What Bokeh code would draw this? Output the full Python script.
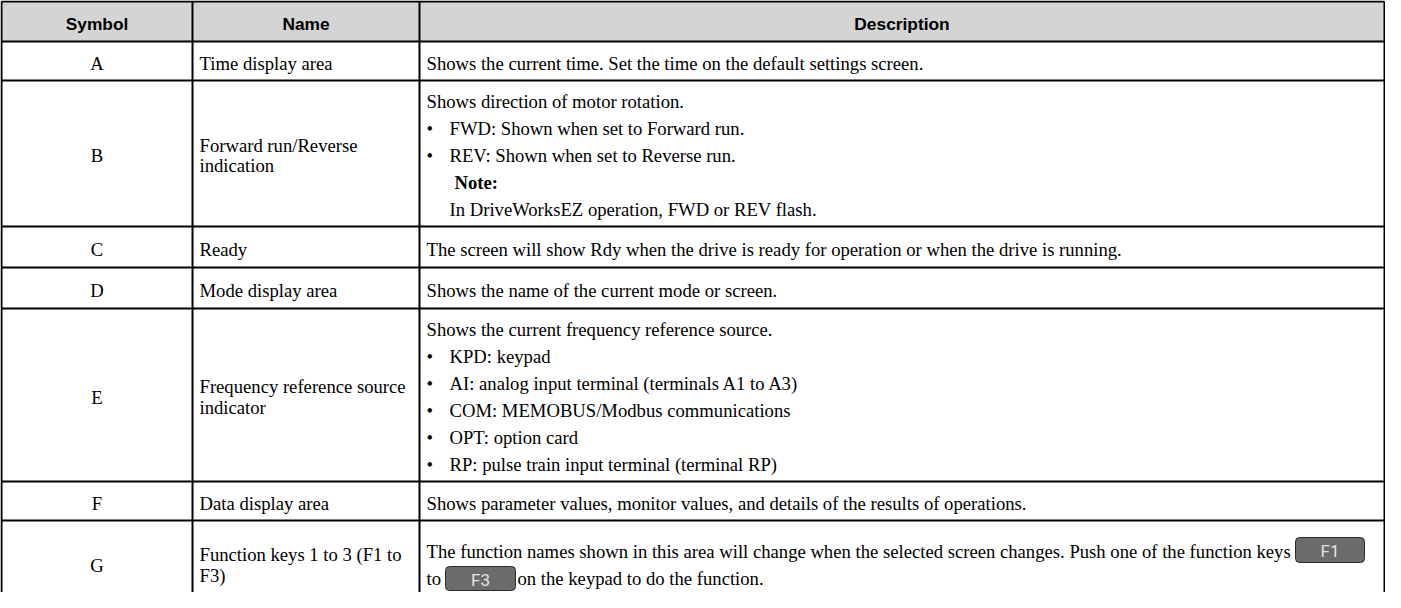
from bokeh.plotting import figure
from bokeh.models import Range1d
from bokeh.core.properties import value
from bokeh.embed import file_html
from bokeh.resources import INLINE

# ---------------- data ----------------
headers = ["Symbol", "Name", "Description"]
symbols = ["A", "B", "C", "D", "E", "F", "G"]
names = [
    ["Time display area"],
    ["Forward run/Reverse", "indication"],
    ["Ready"],
    ["Mode display area"],
    ["Frequency reference source", "indicator"],
    ["Data display area"],
    ["Function keys 1 to 3 (F1 to", "F3)"],
]
# kinds: p = paragraph, b = bullet, note = bold note heading, n = note text, k = line with key button
descriptions = [
    [("p", "Shows the current time. Set the time on the default settings screen.")],
    [("p", "Shows direction of motor rotation."),
     ("b", "FWD: Shown when set to Forward run."),
     ("b", "REV: Shown when set to Reverse run."),
     ("note", "Note:"),
     ("n", "In DriveWorksEZ operation, FWD or REV flash.")],
    [("p", "The screen will show Rdy when the drive is ready for operation or when the drive is running.")],
    [("p", "Shows the name of the current mode or screen.")],
    [("p", "Shows the current frequency reference source."),
     ("b", "KPD: keypad"),
     ("b", "AI: analog input terminal (terminals A1 to A3)"),
     ("b", "COM: MEMOBUS/Modbus communications"),
     ("b", "OPT: option card"),
     ("b", "RP: pulse train input terminal (terminal RP)")],
    [("p", "Shows parameter values, monitor values, and details of the results of operations.")],
    [("p", "The function names shown in this area will change when the selected screen changes. Push one of the function keys"),
     ("k", "to")],
]
key_labels = ["F1", "F3"]
key_tail = "on the keypad to do the function."

# ---------------- layout (screen pixels) ----------------
W, H = 1385, 592
col_edges = [9, 200, 427, 1392]
row_edges = [9, 49, 88, 234, 275, 316, 489, 528, 613]
name_x = 207
desc_x = 434
bullet_x = 434
bullet_text_x = 457
note_x = 462
note_text_x = 457
desc_step = 27
name_step = 20.5
text_dy = 2
key_boxes = [(1303, 1372, 545, 570), (453, 523, 574, 598)]
key_tail_x = 525

SERIF = value("Liberation Serif")
SANS = value("Liberation Sans")
FS = "18.67px"

p = figure(width=W, height=H, x_range=Range1d(8, 8 + W), y_range=Range1d(8 + H, 8),
           output_backend="svg", toolbar_location=None, min_border=0,
           outline_line_color=None, background_fill_color="white")
p.xaxis.visible = False
p.yaxis.visible = False
p.grid.visible = False

# header background
p.quad(left=[col_edges[0]], right=[col_edges[-1]], top=[row_edges[0]], bottom=[row_edges[1]],
       fill_color="#d4d4d4", line_color=None)

# header text
hx = [(col_edges[i] + col_edges[i + 1]) / 2 for i in range(3)]
hy = [(row_edges[0] + row_edges[1]) / 2 + text_dy] * 3
p.text(x=hx, y=hy, text=headers, text_font=SANS, text_font_style="bold",
       text_font_size="17.33px", text_align="center", text_baseline="middle", text_color="black")

sx, sy, st = [], [], []
nx, ny, nt = [], [], []
dx, dy, dt = [], [], []
bx, by, bt = [], [], []
for i, sym in enumerate(symbols):
    top, bot = row_edges[i + 1], row_edges[i + 2]
    cy = (top + bot) / 2 + text_dy
    sx.append((col_edges[0] + col_edges[1]) / 2); sy.append(cy); st.append(sym)
    nl = names[i]
    for k, line in enumerate(nl):
        nx.append(name_x); ny.append(cy + (k - (len(nl) - 1) / 2) * name_step); nt.append(line)
    dl = descriptions[i]
    for k, (kind, line) in enumerate(dl):
        y = cy + (k - (len(dl) - 1) / 2) * desc_step
        if kind == "p":
            dx.append(desc_x); dy.append(y); dt.append(line)
        elif kind == "b":
            dx.append(bullet_x); dy.append(y); dt.append("\u2022")
            dx.append(bullet_text_x); dy.append(y); dt.append(line)
        elif kind == "note":
            bx.append(note_x); by.append(y); bt.append(line)
        elif kind == "n":
            dx.append(note_text_x); dy.append(y); dt.append(line)
        elif kind == "k":
            dx.append(desc_x); dy.append(y); dt.append(line)
            dx.append(key_tail_x); dy.append(y); dt.append(key_tail)

p.text(x=sx, y=sy, text=st, text_font=SERIF, text_font_size=FS, text_align="center",
       text_baseline="middle", text_color="black")
p.text(x=nx, y=ny, text=nt, text_font=SERIF, text_font_size=FS, text_align="left",
       text_baseline="middle", text_color="black")
p.text(x=dx, y=dy, text=dt, text_font=SERIF, text_font_size=FS, text_align="left",
       text_baseline="middle", text_color="black")
p.text(x=bx, y=by, text=bt, text_font=SERIF, text_font_size=FS, text_font_style="bold",
       text_align="left", text_baseline="middle", text_color="black")

# function key buttons
p.quad(left=[b[0] for b in key_boxes], right=[b[1] for b in key_boxes],
       top=[b[2] for b in key_boxes], bottom=[b[3] for b in key_boxes],
       fill_color="#6b6b6b", line_color="#2a2a2a", line_width=1, border_radius=4)
p.text(x=[(b[0] + b[1]) / 2 for b in key_boxes], y=[(b[2] + b[3]) / 2 + 1 for b in key_boxes],
       text=key_labels, text_font=value("Roboto"), text_font_size="17px", text_align="center",
       text_baseline="middle", text_color="#e4e4e4")

# grid lines
p.segment(x0=[col_edges[0]] * len(row_edges), x1=[col_edges[-1]] * len(row_edges),
          y0=row_edges, y1=row_edges, line_color="black", line_width=2)
p.segment(x0=col_edges, x1=col_edges, y0=[row_edges[0]] * len(col_edges),
          y1=[row_edges[-1]] * len(col_edges), line_color="black", line_width=2)

open("out.html", "w").write(file_html(p, INLINE))
